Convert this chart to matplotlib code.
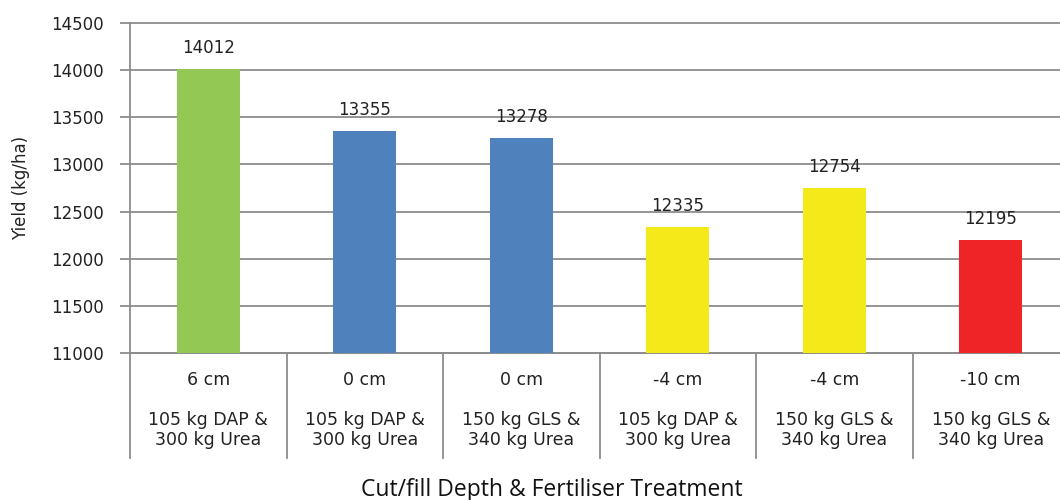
import matplotlib
matplotlib.use("Agg")
import matplotlib.pyplot as plt
from matplotlib.transforms import blended_transform_factory
from matplotlib.lines import Line2D

depths = ["6 cm", "0 cm", "0 cm", "-4 cm", "-4 cm", "-10 cm"]
treatments = ["105 kg DAP &\n300 kg Urea", "105 kg DAP &\n300 kg Urea",
              "150 kg GLS &\n340 kg Urea", "105 kg DAP &\n300 kg Urea",
              "150 kg GLS &\n340 kg Urea", "150 kg GLS &\n340 kg Urea"]
yields = [14012, 13355, 13278, 12335, 12754, 12195]
colors = ["#92C853", "#4F81BD", "#4F81BD", "#F4EA1A", "#F4EA1A", "#EE2427"]
yticks = [11000, 11500, 12000, 12500, 13000, 13500, 14000, 14500]

plt.rcParams['font.family'] = ['DejaVu Sans']
fig = plt.figure(figsize=(10.6, 5.0), dpi=100)
ax = fig.add_axes([130/1060, 147/500, 939/1060, 330/500])

x = list(range(len(yields)))
ax.bar(x, [v - 11000 for v in yields], bottom=11000, width=0.4, color=colors, zorder=3)
ax.set_xlim(-0.5, len(yields) - 0.5)
ax.set_ylim(11000, 14500)
ax.set_yticks(yticks)
ax.set_yticklabels([str(t) for t in yticks], fontsize=12, color="#222222")
ax.yaxis.grid(True, color="#8c8c8c", linewidth=1.3, zorder=0)
for gl in ax.get_ygridlines():
    gl.set_clip_on(False)
ax.tick_params(axis='y', length=7, width=1.3, color="#8c8c8c", pad=12)
ax.set_xticks([])
for s in ["top", "right"]:
    ax.spines[s].set_visible(False)
ax.spines["left"].set_color("#8c8c8c")
ax.spines["left"].set_linewidth(1.3)
ax.spines["bottom"].set_color("#8c8c8c")
ax.spines["bottom"].set_linewidth(1.3)

for xi, v in zip(x, yields):
    ax.annotate(str(v), (xi, v), xytext=(0, 15), textcoords="offset points",
                ha="center", va="center", fontsize=12, color="#222222")

trans = blended_transform_factory(ax.transData, ax.transAxes)
for i in range(len(yields) + 1):
    ax.add_line(Line2D([i - 0.5, i - 0.5], [0, -0.318], transform=trans,
                       color="#8c8c8c", linewidth=1.3, clip_on=False))
for xi, d, t in zip(x, depths, treatments):
    ax.text(xi, -0.082, d, transform=trans, ha="center", va="center", fontsize=12.5, color="#222222")
    ax.text(xi, -0.232, t, transform=trans, ha="center", va="center", fontsize=12.5,
            color="#222222", linespacing=1.15)

ax.set_ylabel("Yield (kg/ha)", fontsize=12, color="#222222", labelpad=15)
fig.text(552/1060, 1 - 490/500, "Cut/fill Depth & Fertiliser Treatment",
         ha="center", va="center", fontsize=16.5, family="Open Sans", color="#111111")

fig.savefig("out.png", dpi=100)
